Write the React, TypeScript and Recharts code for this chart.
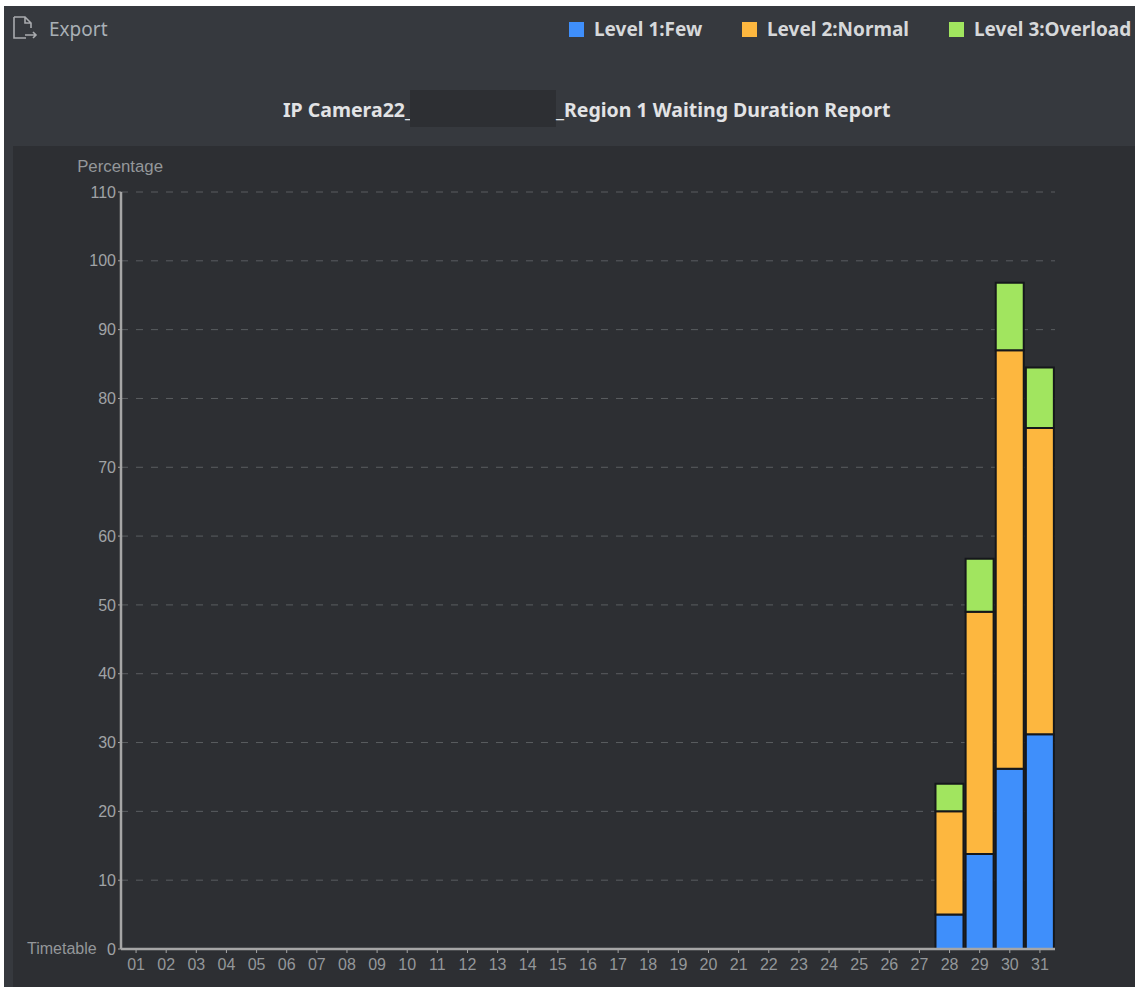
import { BarChart, Bar, XAxis, YAxis, CartesianGrid, Legend } from 'recharts';

const days = [
  '01', '02', '03', '04', '05', '06', '07', '08', '09', '10', '11', '12', '13', '14', '15', '16',
  '17', '18', '19', '20', '21', '22', '23', '24', '25', '26', '27', '28', '29', '30', '31',
];
const percentTicks = [0, 10, 20, 30, 40, 50, 60, 70, 80, 90, 100, 110];

// only the last four days have any data
const emptyDays = days.slice(0, 27).map(() => null);
const few = [...emptyDays, 5, 13.8, 26.2, 31.2];
const normal = [...emptyDays, 15, 35.2, 60.8, 44.5];
const overload = [...emptyDays, 4, 7.7, 9.8, 8.8];

const chartData = days.map((day, i) => ({
  day,
  'Level 1:Few': few[i],
  'Level 2:Normal': normal[i],
  'Level 3:Overload': overload[i],
}));

const AXIS_FONT = '"Liberation Sans", Arial, sans-serif';
const UI_FONT = '"Noto Sans", sans-serif';
const barStroke = '#15171b';

function legendContent({ payload }: any) {
  const lefts = [569, 742, 949];
  return (
    <div style={{ position: 'relative', width: 1135, height: 24 }}>
      {(payload ?? []).map((entry: any, i: number) => (
        <div
          key={entry.value}
          style={{
            position: 'absolute',
            left: lefts[i],
            top: 0,
            display: 'flex',
            alignItems: 'center',
            whiteSpace: 'nowrap',
            fontFamily: UI_FONT,
            fontWeight: 700,
            fontSize: 19,
            lineHeight: '24px',
            color: '#d6d8da',
          }}
        >
          <span style={{ width: 15, height: 15, background: entry.color, marginRight: 10 }} />
          {entry.value}
        </div>
      ))}
    </div>
  );
}

export default function App() {
  return (
    <div style={{ position: 'absolute', left: 0, top: 0, width: 1135, height: 987, background: '#fff', overflow: 'hidden' }}>
      <div style={{ position: 'absolute', left: 4, top: 6, width: 1131, height: 981, background: '#36393e' }} />
      <div style={{ position: 'absolute', left: 13, top: 146, width: 1122, height: 841, background: '#2d2f33' }} />

      <svg style={{ position: 'absolute', left: 12, top: 15 }} width={26} height={26} viewBox="0 0 26 26" fill="none" stroke="#a9abae" strokeWidth={1.6}>
        <path d="M2 2 H13 L19 8 V13 M13 2 V8 H19 M2 2 V23 H14" />
        <path d="M13 20 H24 M21 17 L24 20 L21 23" />
      </svg>
      <div style={{ position: 'absolute', left: 49, top: 17, fontFamily: UI_FONT, fontSize: 19, lineHeight: '24px', color: '#a9b0b6' }}>
        Export
      </div>

      <div style={{ position: 'absolute', left: 283, top: 98, fontFamily: UI_FONT, fontWeight: 700, fontSize: 19.5, lineHeight: '24px', color: '#e2e3e5', whiteSpace: 'nowrap' }}>
        IP Camera22_
      </div>
      <div style={{ position: 'absolute', left: 410, top: 90, width: 146, height: 37, background: '#2d2f33' }} />
      <div style={{ position: 'absolute', left: 556, top: 98, fontFamily: UI_FONT, fontWeight: 700, fontSize: 19.5, lineHeight: '24px', color: '#e2e3e5', whiteSpace: 'nowrap' }}>
        _Region 1 Waiting Duration Report
      </div>

      <div style={{ position: 'absolute', left: 0, top: 0 }}>
        <BarChart
          width={1135}
          height={987}
          data={chartData}
          margin={{ top: 168, right: 80, bottom: 0, left: 0 }}
          barCategoryGap={1}
        >
          <CartesianGrid horizontal vertical={false} stroke="#5a5d61" strokeDasharray="7 8" />
          <XAxis
            dataKey="day"
            height={38}
            interval={0}
            tickSize={4}
            tickMargin={6}
            tick={{ fill: '#94979a', fontSize: 16, fontFamily: AXIS_FONT }}
            axisLine={{ stroke: '#a6a6a6', strokeWidth: 2.5 }}
            tickLine={{ stroke: '#a6a6a6' }}
            label={{ value: 'Timetable', position: 'insideTopLeft', offset: 0, dx: -94, dy: -6, fill: '#94979a', fontSize: 16, fontFamily: AXIS_FONT }}
          />
          <YAxis
            width={121}
            domain={[0, 110]}
            ticks={percentTicks}
            interval={0}
            tickSize={3}
            tickMargin={2}
            tick={{ fill: '#a0a3a6', fontSize: 16, fontFamily: AXIS_FONT }}
            axisLine={{ stroke: '#a6a6a6', strokeWidth: 2.5 }}
            tickLine={{ stroke: '#a6a6a6' }}
            label={{ value: 'Percentage', position: 'insideTopRight', offset: 0, dx: 42, dy: -32, fill: '#94979a', fontSize: 16.8, fontFamily: AXIS_FONT }}
          />
          <Legend verticalAlign="top" wrapperStyle={{ position: 'absolute', left: 0, top: 17, width: 1135 }} content={legendContent} />
          <Bar dataKey="Level 1:Few" stackId="a" fill="#3f8ffb" stroke={barStroke} strokeWidth={2} isAnimationActive={false} />
          <Bar dataKey="Level 2:Normal" stackId="a" fill="#fdb73f" stroke={barStroke} strokeWidth={2} isAnimationActive={false} />
          <Bar dataKey="Level 3:Overload" stackId="a" fill="#a1e55f" stroke={barStroke} strokeWidth={2} isAnimationActive={false} />
        </BarChart>
      </div>
    </div>
  );
}
